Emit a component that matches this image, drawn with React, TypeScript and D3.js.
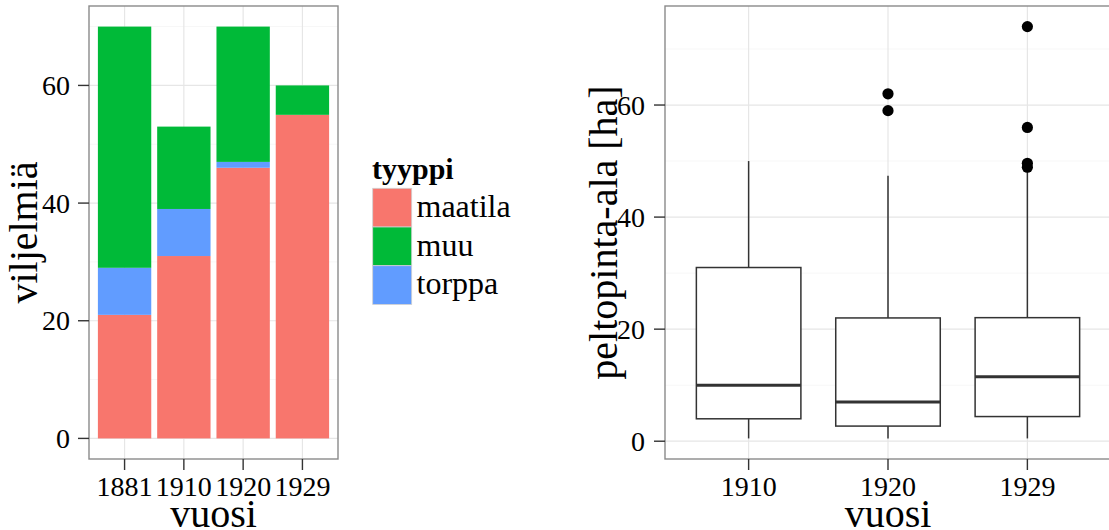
import React from "react";
import * as d3 from "d3";

// ---------- Data: left panel (stacked bars) ----------
const barYears = ["1881", "1910", "1920", "1929"];
const maatila = [21, 31, 46, 55];
const torppa = [8, 8, 1, 0];
const muu = [41, 14, 23, 5];
const stackKeys = ["maatila", "torppa", "muu"]; // bottom to top
const legendKeys = ["maatila", "muu", "torppa"];
const typeColors: Record<string, string> = {
  maatila: "#F8766D",
  muu: "#00BA38",
  torppa: "#619CFF",
};
const barYTicks = [0, 20, 40, 60];
const barYMinor = [10, 30, 50, 70];

// ---------- Data: right panel (boxplots) ----------
const boxYears = ["1910", "1920", "1929"];
const whiskerLow = [0.5, 0.5, 0.5];
const q1 = [4, 2.7, 4.4];
const median = [10, 7, 11.5];
const q3 = [31, 22, 22.05];
const whiskerHigh = [50, 47.4, 48.3];
const outliers = [[], [59, 62], [48.9, 49.6, 56, 74]];
const boxYTicks = [0, 20, 40, 60];
const boxYMinor = [10, 30, 50, 70];

const FONT = "'Liberation Serif', 'DejaVu Serif', serif";
const GRID_MAJOR = "#e6e6e6";
const GRID_MINOR = "#f7f7f7";
const BORDER = "#8a8a8a";
const TICK = "#333333";

export default function App() {
  const W = 1109;
  const H = 530;
  const top = 6;
  const bottom = 459;

  // Left panel scales
  const L = { x0: 89, x1: 338 };
  const xL = d3.scalePoint<string>().domain(barYears).range([L.x0, L.x1]).padding(0.6);
  const stepL = xL.step();
  const yL = d3.scaleLinear().domain([-3.5, 73.5]).range([bottom, top]);
  const rows = barYears.map((y, i) => ({
    year: y,
    maatila: maatila[i],
    torppa: torppa[i],
    muu: muu[i],
  }));
  const stacked = d3.stack<any>().keys(stackKeys)(rows);

  // Right panel scales
  const R = { x0: 665, x1: 1111 };
  const xR = d3.scalePoint<string>().domain(boxYears).range([R.x0, R.x1]).padding(0.6);
  const stepR = xR.step();
  const allVals = [...whiskerLow, ...whiskerHigh, ...outliers.flat()];
  const dMin = d3.min(allVals) as number;
  const dMax = d3.max(allVals) as number;
  const ex = (dMax - dMin) * 0.05;
  const yR = d3.scaleLinear().domain([dMin - ex, dMax + ex]).range([bottom, top]);

  const tickFont = 28;
  const titleFont = 40;

  return (
    <div style={{ position: "absolute", left: 0, top: 0 }}>
      <svg width={W} height={H} style={{ display: "block", fontFamily: FONT }}>
        <rect x={0} y={0} width={W} height={H} fill="#ffffff" />

        {/* ===== Left panel ===== */}
        <g>
          {barYMinor.map((v) => (
            <line key={"lm" + v} x1={L.x0} x2={L.x1} y1={yL(v)} y2={yL(v)} stroke={GRID_MINOR} strokeWidth={1} />
          ))}
          {barYTicks.map((v) => (
            <line key={"lM" + v} x1={L.x0} x2={L.x1} y1={yL(v)} y2={yL(v)} stroke={GRID_MAJOR} strokeWidth={1.2} />
          ))}
          {barYears.map((c) => (
            <line key={"lv" + c} x1={xL(c)} x2={xL(c)} y1={top} y2={bottom} stroke={GRID_MAJOR} strokeWidth={1.2} />
          ))}
          {stacked.map((layer) =>
            layer.map((d, i) => {
              const h = yL(d[0]) - yL(d[1]);
              if (h <= 0) return null;
              const cx = xL(barYears[i]) as number;
              return (
                <rect
                  key={layer.key + i}
                  x={cx - stepL * 0.45}
                  width={stepL * 0.9}
                  y={yL(d[1])}
                  height={h}
                  fill={typeColors[layer.key]}
                />
              );
            })
          )}
          <rect x={L.x0} y={top} width={L.x1 - L.x0} height={bottom - top} fill="none" stroke={BORDER} strokeWidth={1.4} />
          {barYTicks.map((v) => (
            <g key={"lyt" + v}>
              <line x1={L.x0 - 11} x2={L.x0} y1={yL(v)} y2={yL(v)} stroke={TICK} strokeWidth={1.4} />
              <text x={L.x0 - 19} y={yL(v)} dy="0.34em" textAnchor="end" fontSize={tickFont} fill="#000">
                {v}
              </text>
            </g>
          ))}
          {barYears.map((c) => (
            <g key={"lxt" + c}>
              <line x1={xL(c)} x2={xL(c)} y1={bottom} y2={bottom + 11} stroke={TICK} strokeWidth={1.4} />
              <text x={xL(c)} y={496} textAnchor="middle" fontSize={tickFont} fill="#000">
                {c}
              </text>
            </g>
          ))}
          <text x={(L.x0 + L.x1) / 2} y={526.5} textAnchor="middle" fontSize={titleFont} fill="#000">
            vuosi
          </text>
          <text
            transform={`translate(37,${(top + bottom) / 2}) rotate(-90)`}
            textAnchor="middle"
            fontSize={titleFont}
            fill="#000"
          >
            viljelmiä
          </text>
        </g>

        {/* ===== Legend ===== */}
        <g>
          <text x={372} y={179} fontSize={30} fontWeight="bold" fill="#000">
            tyyppi
          </text>
          {legendKeys.map((k, i) => (
            <g key={"lg" + k}>
              <rect x={372.7} y={188.3 + i * 38.7} width={39} height={38.7} fill={typeColors[k]} stroke="#d0d0d0" strokeWidth={0.8} />
              <text x={416.5} y={188.3 + i * 38.7 + 28.5} fontSize={32} fill="#000">
                {k}
              </text>
            </g>
          ))}
        </g>

        {/* ===== Right panel ===== */}
        <g>
          {boxYMinor.map((v) => (
            <line key={"rm" + v} x1={R.x0} x2={R.x1} y1={yR(v)} y2={yR(v)} stroke={GRID_MINOR} strokeWidth={1} />
          ))}
          {boxYTicks.map((v) => (
            <line key={"rM" + v} x1={R.x0} x2={R.x1} y1={yR(v)} y2={yR(v)} stroke={GRID_MAJOR} strokeWidth={1.2} />
          ))}
          {boxYears.map((c) => (
            <line key={"rv" + c} x1={xR(c)} x2={xR(c)} y1={top} y2={bottom} stroke={GRID_MAJOR} strokeWidth={1.2} />
          ))}
          {boxYears.map((c, i) => {
            const cx = xR(c) as number;
            const hw = stepR * 0.375;
            return (
              <g key={"box" + c}>
                <line x1={cx} x2={cx} y1={yR(q3[i])} y2={yR(whiskerHigh[i])} stroke={TICK} strokeWidth={1.5} />
                <line x1={cx} x2={cx} y1={yR(q1[i])} y2={yR(whiskerLow[i])} stroke={TICK} strokeWidth={1.5} />
                <rect
                  x={cx - hw}
                  width={hw * 2}
                  y={yR(q3[i])}
                  height={yR(q1[i]) - yR(q3[i])}
                  fill="#ffffff"
                  stroke={TICK}
                  strokeWidth={1.5}
                />
                <line x1={cx - hw} x2={cx + hw} y1={yR(median[i])} y2={yR(median[i])} stroke={TICK} strokeWidth={3} />
                {outliers[i].map((o, j) => (
                  <circle key={j} cx={cx} cy={yR(o)} r={5.6} fill="#000" />
                ))}
              </g>
            );
          })}
          <rect x={R.x0} y={top} width={R.x1 - R.x0} height={bottom - top} fill="none" stroke={BORDER} strokeWidth={1.4} />
          {boxYTicks.map((v) => (
            <g key={"ryt" + v}>
              <line x1={R.x0 - 11} x2={R.x0} y1={yR(v)} y2={yR(v)} stroke={TICK} strokeWidth={1.4} />
              <text x={R.x0 - 20} y={yR(v)} dy="0.34em" textAnchor="end" fontSize={tickFont} fill="#000">
                {v}
              </text>
            </g>
          ))}
          {boxYears.map((c) => (
            <g key={"rxt" + c}>
              <line x1={xR(c)} x2={xR(c)} y1={bottom} y2={bottom + 11} stroke={TICK} strokeWidth={1.4} />
              <text x={xR(c)} y={495.5} textAnchor="middle" fontSize={tickFont} fill="#000">
                {c}
              </text>
            </g>
          ))}
          <text x={(R.x0 + R.x1) / 2} y={526.5} textAnchor="middle" fontSize={titleFont} fill="#000">
            vuosi
          </text>
          <text
            transform={`translate(617,${(top + bottom) / 2}) rotate(-90)`}
            textAnchor="middle"
            fontSize={titleFont}
            fill="#000"
          >
            peltopinta-ala [ha]
          </text>
        </g>
      </svg>
    </div>
  );
}
